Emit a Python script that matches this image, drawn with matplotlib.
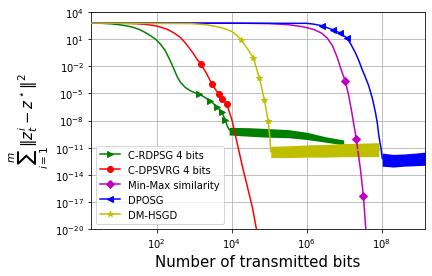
# libraries
import numpy as np
import matplotlib
matplotlib.use('Agg')
import matplotlib.pyplot as plt

# data, stored as log10 exponents (x = bits, y = error)
# C-RDPSG 4 bits
green_x = [0.25, 0.5, 0.76, 1.0, 1.2, 1.38, 1.55, 1.69, 1.83, 1.97, 2.1, 2.23, 2.34, 2.45,
           2.54, 2.63, 2.76, 2.9, 3.07, 3.13, 3.43, 3.62, 3.74, 3.83, 3.88, 3.93, 4.0,
           4.5, 5.0, 5.5, 6.0, 6.5, 6.98]
green_y = [2.78, 2.76, 2.7, 2.6, 2.47, 2.3, 2.05, 1.75, 1.4, 1.0, 0.45, -0.28, -1.2, -2.2,
           -3.1, -3.75, -4.33, -4.72, -5.0, -5.07, -5.81, -6.55, -7.1, -7.95, -8.6, -9.0, -9.15,
           -9.27, -9.37, -9.45, -9.7, -10.1, -10.42]
green_mx = [3.13, 3.43, 3.62, 3.74, 3.83]
green_my = [-5.07, -5.81, -6.55, -7.1, -7.95]
green_band_x = [3.93, 4.5, 5.0, 5.5, 6.0, 6.5, 6.98]
green_band_top = [-8.75, -8.8, -8.9, -9.0, -9.3, -9.8, -10.15]
green_band_low = [-9.6, -9.75, -9.85, -9.9, -10.1, -10.4, -10.7]

# C-DPSVRG 4 bits
red_x = [0.25, 1.0, 1.5, 1.74, 2.0, 2.27, 2.45, 2.63, 2.76, 2.89, 2.98, 3.07, 3.18, 3.33,
         3.47, 3.65, 3.75, 3.87, 4.01, 4.15, 4.28, 4.41, 4.55, 4.68]
red_y = [2.78, 2.76, 2.7, 2.62, 2.45, 2.12, 1.72, 1.2, 0.6, -0.09, -0.6, -1.2, -1.75, -2.8,
         -3.96, -5.07, -5.62, -6.18, -8.0, -10.6, -13.0, -15.2, -17.6, -20.5]
red_mx = [3.18, 3.47, 3.65, 3.75, 3.87]
red_my = [-1.75, -3.96, -5.07, -5.62, -6.18]

# Min-Max similarity
mag_x = [0.25, 4.0, 5.0, 5.5, 5.83, 6.0, 6.2, 6.4, 6.55, 6.68, 6.81, 6.94, 7.03, 7.12,
         7.2, 7.32, 7.43, 7.51, 7.58]
mag_y = [2.78, 2.78, 2.72, 2.6, 2.42, 2.28, 2.05, 1.65, 1.1, 0.3, -1.0, -2.67, -3.67, -5.3,
         -7.1, -10.05, -13.4, -16.4, -20.5]
mag_mx = [7.03, 7.32, 7.51]
mag_my = [-3.67, -10.05, -16.4]

# DPOSG
blue_x = [0.25, 6.0, 6.2, 6.41, 6.69, 6.89, 7.07, 7.18, 7.29, 7.38, 7.47, 7.56, 7.65, 7.75,
          7.83, 7.88, 7.92, 7.98, 8.01, 8.3, 8.6, 8.9, 9.15]
blue_y = [2.78, 2.75, 2.65, 2.48, 2.04, 1.68, 1.12, 0.4, -0.46, -1.3, -2.3, -3.2, -4.15, -5.6,
          -7.1, -8.3, -9.68, -11.15, -12.2, -12.35, -12.3, -12.3, -12.25]
blue_mx = [6.41, 6.69, 6.89, 7.07]
blue_my = [2.48, 2.04, 1.68, 1.12]
blue_band_x = [8.01, 8.3, 8.6, 8.9, 9.15]
blue_band_top = [-11.6, -11.75, -11.7, -11.6, -11.5]
blue_band_low = [-13.05, -13.15, -13.05, -13.0, -12.95]

# DM-HSGD
yel_x = [0.25, 2.9, 3.3, 3.5, 3.69, 3.85, 4.0, 4.13, 4.25, 4.42, 4.58, 4.74, 4.87, 4.97,
         5.02, 5.04, 5.5, 6.0, 6.5, 7.0, 7.5, 7.92]
yel_y = [2.78, 2.72, 2.6, 2.47, 2.3, 2.1, 1.85, 1.45, 0.9, -0.05, -1.12, -3.33, -5.7, -8.1,
         -10.0, -11.45, -11.45, -11.4, -11.35, -11.3, -11.25, -11.22]
yel_mx = [4.25, 4.58, 4.74, 4.87, 4.97]
yel_my = [0.9, -1.12, -3.33, -5.7, -8.1]
yel_band_x = [5.04, 5.5, 6.0, 6.5, 7.0, 7.5, 7.92]
yel_band_top = [-10.85, -10.8, -10.7, -10.65, -10.55, -10.5, -10.45]
yel_band_low = [-12.1, -12.1, -12.05, -12.05, -12.0, -12.0, -12.0]

series = [
    ('C-RDPSG 4 bits', 'g', '>', green_x, green_y, green_mx, green_my,
     (green_band_x, green_band_top, green_band_low)),
    ('C-DPSVRG 4 bits', 'r', 'o', red_x, red_y, red_mx, red_my, None),
    ('Min-Max similarity', 'm', 'D', mag_x, mag_y, mag_mx, mag_my, None),
    ('DPOSG', 'b', '<', blue_x, blue_y, blue_mx, blue_my,
     (blue_band_x, blue_band_top, blue_band_low)),
    ('DM-HSGD', 'y', '*', yel_x, yel_y, yel_mx, yel_my,
     (yel_band_x, yel_band_top, yel_band_low)),
]


def p10(a):
    return np.power(10.0, np.asarray(a, dtype=float))


fig, ax = plt.subplots(figsize=(6, 3.847), dpi=72)
fig.subplots_adjust(left=0.2106, right=0.9838, bottom=0.1697, top=0.953)

# draw order: later series end up on top
for label, c, m, x, y, mx, my, band in series:
    if band is not None:
        bx, bt, bl = band
        ax.fill_between(p10(bx), p10(bl), p10(bt), color=c, lw=0, zorder=2)
    ax.plot(p10(x), p10(y), color=c, lw=1.5, zorder=3)
    ax.plot(p10(mx), p10(my), color=c, marker=m, ls='none', ms=6, zorder=3)
    # legend entry only
    ax.plot([], [], color=c, marker=m, lw=1.5, ms=6, label=label)

ax.set_xscale('log')
ax.set_yscale('log')
ax.set_xlim(p10(0.25), p10(9.15))
ax.set_ylim(1e-20, 1e4)
ax.set_yticks(p10(np.arange(4, -21, -3)))
ax.set_xticks([1e2, 1e4, 1e6, 1e8])
ax.minorticks_off()
ax.grid(True)

ax.set_xlabel('Number of transmitted bits', fontsize=15)
ax.set_ylabel(r'$\sum_{i=1}^{m}\|z_t^i - z^\star\|^2$', fontsize=15)
ax.legend(loc='lower left')

fig.savefig('out.png', dpi=72)
